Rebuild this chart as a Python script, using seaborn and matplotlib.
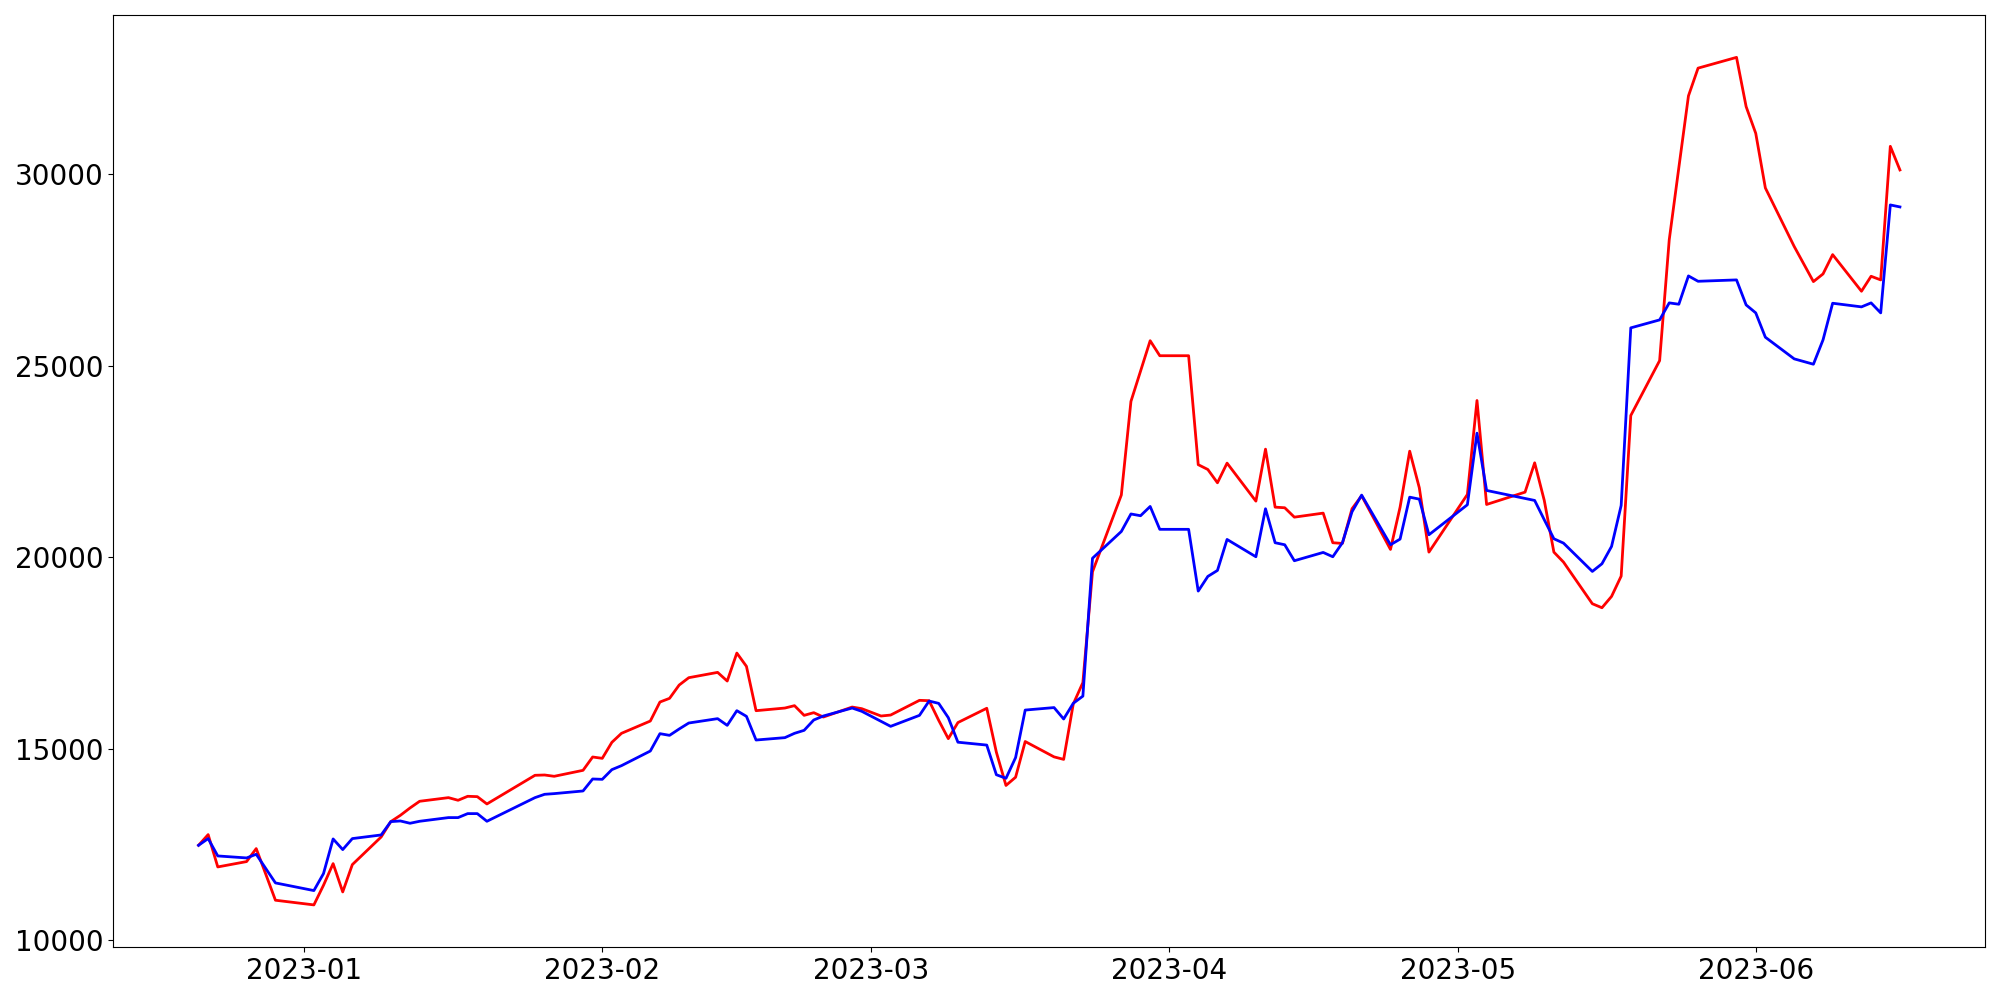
import matplotlib
matplotlib.use("Agg")
import matplotlib.pyplot as plt
import pandas as pd
import seaborn as sns

# trading days (KRX calendar, Dec 2022 - Jun 2023)
dates = [
    "2022-12-21", "2022-12-22", "2022-12-23", "2022-12-26", "2022-12-27", "2022-12-28", "2022-12-29",
    "2023-01-02", "2023-01-03", "2023-01-04", "2023-01-05", "2023-01-06", "2023-01-09", "2023-01-10",
    "2023-01-11", "2023-01-12", "2023-01-13", "2023-01-16", "2023-01-17", "2023-01-18", "2023-01-19",
    "2023-01-20", "2023-01-25", "2023-01-26", "2023-01-27", "2023-01-30", "2023-01-31",
    "2023-02-01", "2023-02-02", "2023-02-03", "2023-02-06", "2023-02-07", "2023-02-08", "2023-02-09",
    "2023-02-10", "2023-02-13", "2023-02-14", "2023-02-15", "2023-02-16", "2023-02-17", "2023-02-20",
    "2023-02-21", "2023-02-22", "2023-02-23", "2023-02-24", "2023-02-27", "2023-02-28",
    "2023-03-02", "2023-03-03", "2023-03-06", "2023-03-07", "2023-03-08", "2023-03-09", "2023-03-10",
    "2023-03-13", "2023-03-14", "2023-03-15", "2023-03-16", "2023-03-17", "2023-03-20", "2023-03-21",
    "2023-03-22", "2023-03-23", "2023-03-24", "2023-03-27", "2023-03-28", "2023-03-29", "2023-03-30",
    "2023-03-31",
    "2023-04-03", "2023-04-04", "2023-04-05", "2023-04-06", "2023-04-07", "2023-04-10", "2023-04-11",
    "2023-04-12", "2023-04-13", "2023-04-14", "2023-04-17", "2023-04-18", "2023-04-19", "2023-04-20",
    "2023-04-21", "2023-04-24", "2023-04-25", "2023-04-26", "2023-04-27", "2023-04-28",
    "2023-05-02", "2023-05-03", "2023-05-04", "2023-05-08", "2023-05-09", "2023-05-10", "2023-05-11",
    "2023-05-12", "2023-05-15", "2023-05-16", "2023-05-17", "2023-05-18", "2023-05-19", "2023-05-22",
    "2023-05-23", "2023-05-24", "2023-05-25", "2023-05-26", "2023-05-30", "2023-05-31",
    "2023-06-01", "2023-06-02", "2023-06-05", "2023-06-07", "2023-06-08", "2023-06-09", "2023-06-12",
    "2023-06-13", "2023-06-14", "2023-06-15", "2023-06-16",
]

red_values = [
    12478, 12757, 11913, 12053, 12392, 11720, 11044,
    10922, 11435, 12000, 11261, 11974, 12696, 13096,
    13261, 13452, 13627, 13722, 13653, 13757, 13748,
    13557, 14305, 14313, 14279, 14435, 14783,
    14748, 15166, 15401, 15722, 16218, 16314, 16661,
    16853, 16992, 16766, 17496, 17149, 15992, 16061,
    16123, 15870, 15940, 15826, 16087, 16044,
    15853, 15878, 16262, 16253, 15740, 15262, 15682,
    16055, 14908, 14040, 14255, 15187, 14786, 14721,
    16166, 16726, 19617, 21622, 24065, 24857, 25650,
    25258,
    25258, 22414, 22288, 21941, 22454, 21462, 22819,
    21305, 21289, 21044, 21149, 20376, 20358, 21263,
    21602, 20201, 21305, 22766, 21810, 20131,
    21636, 24089, 21375, 21697, 22462, 21480, 20131,
    19871, 18784, 18679, 18975, 19505, 23697, 25130,
    28284, 30170, 32041, 32765, 33046, 31760,
    31063, 29638, 28110, 27193, 27393, 27897, 26941,
    27332, 27237, 30724, 30107,
]

blue_values = [
    12478, 12653, 12200, 12148, 12244, 11870, 11496,
    11296, 11740, 12644, 12366, 12653, 12748, 13096,
    13113, 13053, 13105, 13201, 13201, 13305, 13305,
    13105, 13722, 13809, 13827, 13896, 14209,
    14200, 14453, 14557, 14939, 15392, 15348, 15514,
    15670, 15784, 15609, 15992, 15844, 15226, 15288,
    15401, 15479, 15749, 15853, 16061, 15975,
    15714, 15583, 15870, 16244, 16183, 15810, 15169,
    15094, 14320, 14227, 14768, 16008, 16073, 15775,
    16185, 16372, 19971, 20670, 21127, 21081, 21323,
    20726,
    20726, 19114, 19497, 19653, 20462, 20010, 21263,
    20376, 20323, 19906, 20123, 20010, 20376, 21185,
    21619, 20323, 20471, 21566, 21514, 20584,
    21367, 23236, 21741, 21532, 21480, 20976, 20480,
    20366, 19627, 19827, 20280, 21349, 25985, 26193,
    26637, 26602, 27341, 27201, 27237, 26584,
    26376, 25741, 25176, 25036, 25672, 26628, 26533,
    26637, 26376, 29194, 29142,
]

df = pd.DataFrame({
    "date": pd.to_datetime(dates),
    "red": red_values,
    "blue": blue_values,
})

fig, ax = plt.subplots(figsize=(20, 10))
sns.lineplot(data=df, x="date", y="red", color="red", linewidth=2, ax=ax, legend=False)
sns.lineplot(data=df, x="date", y="blue", color="blue", linewidth=2, ax=ax, legend=False)
ax.set_xlabel("")
ax.set_ylabel("")
ax.tick_params(labelsize=20)
plt.tight_layout()
plt.savefig("out.png", dpi=100)
